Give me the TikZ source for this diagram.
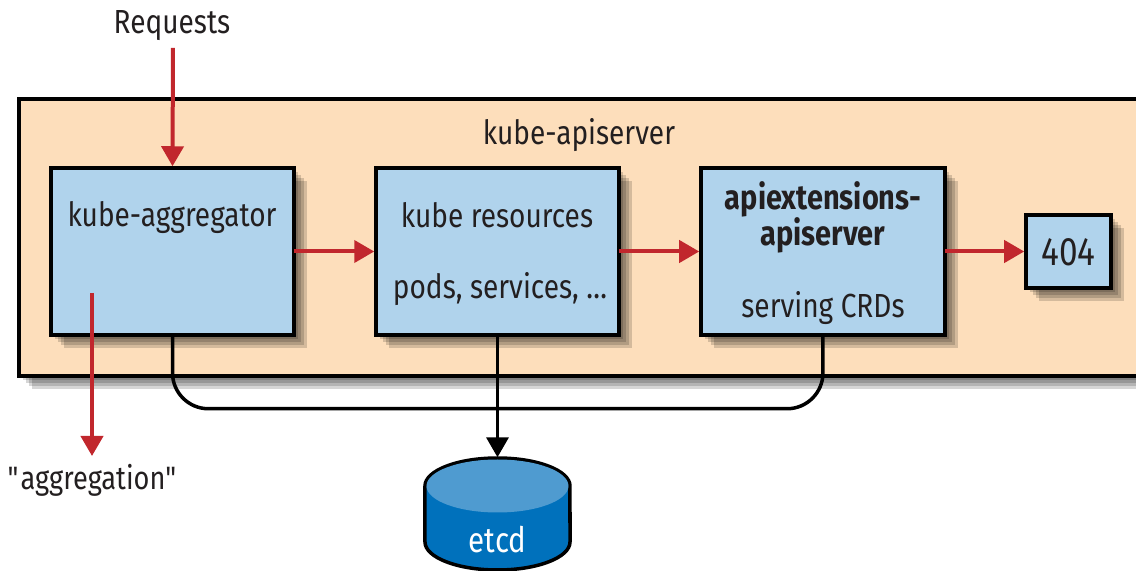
\documentclass[tikz,border=0pt]{standalone}
\usepackage{fontspec}
\setmainfont[FakeStretch=0.84]{Fira Sans}
\usetikzlibrary{arrows.meta,shadows}
\definecolor{boxblue}{HTML}{B0D3EC}
\definecolor{serverbg}{HTML}{FDDEBB}
\definecolor{arrowred}{HTML}{C1272D}
\definecolor{textdark}{HTML}{231F20}
\definecolor{etcdtop}{HTML}{4F9BD0}
\definecolor{etcdbody}{HTML}{0071BC}
\tikzset{
    softlayer/.style={general shadow={shadow xshift=#1, shadow yshift=-#1, fill=black, opacity=0.16}},
    softshadow/.style={softlayer=0.13cm, softlayer=0.10cm, softlayer=0.07cm, softlayer=0.04cm},
    bluebox/.style={softshadow, draw=black, line width=0.035cm, fill=boxblue, inner sep=0pt},
    txt/.style={text=textdark, font=\fontsize{9.5}{11}\selectfont, inner sep=0pt},
    boldtxt/.style={txt, font=\fontsize{9.8}{11}\selectfont\bfseries},
    redline/.style={->, draw=arrowred, line width=0.04cm},
    blackline/.style={draw=black, line width=0.035cm}
}

\begin{document}
\begin{tikzpicture}[>={Triangle[length=0.2cm,width=0.22cm]}]

        \clip (0,0) rectangle (11.36,5.71);

        \node[bluebox, fill=serverbg, minimum width=11.41cm, minimum height=2.77cm] at (5.895,3.335) (server) {};
        \node[txt] at (5.79,4.36) (serverlabel) {kube-apiserver};

        \node[bluebox, minimum width=2.43cm, minimum height=1.67cm] at (1.725,3.195) (aggbox) {};
        \node[bluebox, minimum width=2.43cm, minimum height=1.67cm] at (4.975,3.195) (resbox) {};
        \node[bluebox, minimum width=2.44cm, minimum height=1.67cm] at (8.23,3.195) (crdbox) {};
        \node[bluebox, minimum width=0.85cm, minimum height=0.73cm] at (10.685,3.195) (notfound) {};

        \node[txt] at (1.72,3.53) (agglabel) {kube-aggregator};
        \node[txt] at (4.97,3.56) (reslabel) {kube resources};
        \node[txt] at (5.0,2.82) (podslabel) {pods, services, \ldots};
        \node[boldtxt] at (8.23,3.72) (crdlabela) {apiextensions-};
        \node[boldtxt] at (8.23,3.36) (crdlabelb) {apiserver};
        \node[txt] at (8.23,2.63) (crdlabelc) {serving CRDs};
        \node[txt, font=\fontsize{11.3}{13}\selectfont] at (10.685,3.19) (notfoundlabel) {404};

        \node[txt] at (1.72,5.45) (requests) {Requests};
        \node[txt, font=\fontsize{9.2}{11}\selectfont] at (0.93,0.91) (aggregation) {\textquotedbl aggregation\textquotedbl};

        \draw[blackline, fill=etcdbody] (4.25,0.85) -- (4.25,0.29) arc[start angle=180, end angle=360, x radius=0.725, y radius=0.28] -- (5.70,0.85) arc[start angle=0, end angle=180, x radius=0.725, y radius=0.28] -- cycle;
        \fill[etcdtop] (4.975,0.85) ellipse[x radius=0.71, y radius=0.265];
        \node[minimum width=1.45cm, minimum height=1.12cm, inner sep=0pt] at (4.975,0.57) (etcd) {};
        \node[txt, text=white, font=\fontsize{10}{12}\selectfont] at (4.975,0.31) (etcdlabel) {etcd};

        \coordinate (aggstart) at (0.92,2.78);

        \draw[redline] (requests.south) ++(0.01,-0.06) -- (aggbox.north);
        \draw[redline] (aggstart) -- (0.92,1.15);
        \draw[redline] (aggbox) ++(1.215,0) -- (resbox.west);
        \draw[redline] (resbox) ++(1.215,0) -- (crdbox.west);
        \draw[redline] (crdbox) ++(1.22,0) -- (notfound.west);

        \draw[blackline, rounded corners=0.36cm] (aggbox.south) -- ++(0,-0.72) -| (crdbox.south);
        \draw[blackline, ->] (resbox.south) -- (etcd.north);

    \end{tikzpicture}
\end{document}
